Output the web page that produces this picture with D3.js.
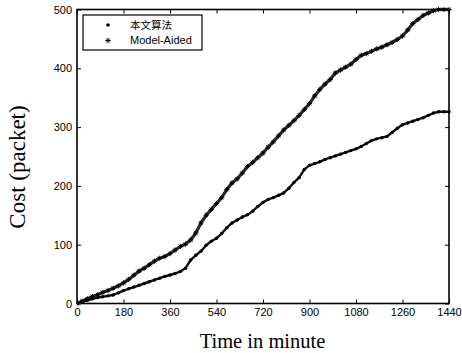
<!DOCTYPE html>
<html><head><meta charset="utf-8">
<script src="https://cdn.jsdelivr.net/npm/d3@7"></script>
<style>body{margin:0;background:#fff}svg{display:block}</style>
</head><body>
<script>
const minutes = d3.range(0, 1441, 20);
const seriesNames = ["本文算法", "Model-Aided"];
const oursValues = [0,3,5.5,8,10,11.5,13,14.5,18,22,25,28,31,34,37,40,43,46,48.5,51,54.5,60,74,82,89,99,106,111,119,129,137,142,147,151,157,165,172,177,180,184,188,196,206,214,228,235,238,241,245,248,251,254,257,260,263,267,272,277,280,282,284,291,298,304,307,310,313,316,320,324,326,326,326];
const modelValues = [0,4,8,12,15,19,22,26,30,35,41,48,55,60,66,72,77,80,85,91,97,101,108,120,137,150,160,170,180,194,205,212,222,233,240,248,256,266,275,285,295,303,311,320,330,340,353,364,373,381,392,397,402,407,415,422,425,429,433,436,440,444,449,455,465,476,483,490,494,498,500,500,500];
const xTicks = [0,180,360,540,720,900,1080,1260,1440];
const yTicks = [0,100,200,300,400,500];

const W = 462, H = 353;
const svg = d3.select("body").append("svg").attr("width", W).attr("height", H);
svg.append("rect").attr("width", W).attr("height", H).attr("fill", "#fff");

const x = d3.scaleLinear().domain([0,1440]).range([77,449]);
const y = d3.scaleLinear().domain([0,500]).range([303.5,9.5]);

const g = svg.append("g");
const clip = svg.append("clipPath").attr("id","c").append("rect")
  .attr("x",77).attr("y",6).attr("width",376).attr("height",300);

// axes
const tickFont = "Liberation Sans, Arial, sans-serif";
const fmt = d3.format("d");
const xb = g.append("g").attr("transform", `translate(0,${y(0)})`)
  .call(d3.axisBottom(x).tickValues(xTicks).tickFormat(fmt).tickSizeInner(-4).tickSizeOuter(0).tickPadding(6));
const xt = g.append("g").attr("transform", `translate(0,${y(500)})`)
  .call(d3.axisTop(x).tickValues(xTicks).tickSizeInner(-4).tickSizeOuter(0).tickFormat(""));
const yl = g.append("g").attr("transform", `translate(${x(0)},0)`)
  .call(d3.axisLeft(y).tickValues(yTicks).tickFormat(fmt).tickSizeInner(-4).tickSizeOuter(0).tickPadding(5));
const yr = g.append("g").attr("transform", `translate(${x(1440)},0)`)
  .call(d3.axisRight(y).tickValues(yTicks).tickSizeInner(-4).tickSizeOuter(0).tickFormat(""));
[xb,xt,yl,yr].forEach(a=>{
  a.select(".domain").remove();
  a.selectAll("line").attr("stroke","#000").attr("stroke-width",1);
  a.selectAll("text").attr("font-family",tickFont).attr("font-size","11px").attr("fill","#000");
});
xb.selectAll("text").attr("dy","0.6em");
g.append("rect").attr("x",x(0)).attr("y",y(500)).attr("width",x(1440)-x(0)).attr("height",y(0)-y(500))
  .attr("fill","none").attr("stroke","#000").attr("stroke-width",1.6);

// series
const lineGen = d3.line().x((d,i)=>x(minutes[i])).y(d=>y(d));
const plot = svg.append("g").attr("clip-path","url(#c)");
plot.append("path").datum(modelValues).attr("d", lineGen)
  .attr("fill","none").attr("stroke","#2a2a2a").attr("stroke-width",3.2).attr("stroke-linejoin","round");
plot.append("path").datum(oursValues).attr("d", lineGen)
  .attr("fill","none").attr("stroke","#111").attr("stroke-width",2.4).attr("stroke-linejoin","round");

function star(sel, cx, cy, r){
  const p = `M${cx-r},${cy}L${cx+r},${cy}M${cx},${cy-r}L${cx},${cy+r}M${cx-r*0.7},${cy-r*0.7}L${cx+r*0.7},${cy+r*0.7}M${cx-r*0.7},${cy+r*0.7}L${cx+r*0.7},${cy-r*0.7}`;
  sel.append("path").attr("d",p).attr("stroke","#000").attr("stroke-width",0.9).attr("fill","none");
}
const starG = plot.append("g");
modelValues.forEach((v,i)=>star(starG, x(minutes[i]), y(v), 2.6));
plot.append("g").selectAll("circle").data(oursValues).join("circle")
  .attr("cx",(d,i)=>x(minutes[i])).attr("cy",d=>y(d)).attr("r",1.7).attr("fill","#000");

// legend
const lg = svg.append("g");
lg.append("rect").attr("x",83).attr("y",15).attr("width",119).attr("height",35)
  .attr("fill","#fff").attr("stroke","#000").attr("stroke-width",1.2);
lg.append("circle").attr("cx",108).attr("cy",25).attr("r",1.8).attr("fill","#000");
star(lg, 108, 40.5, 2.8);
lg.append("text").attr("x",130).attr("y",25).attr("dy","0.35em").text(seriesNames[0])
  .attr("font-family","Noto Sans CJK SC, sans-serif").attr("font-size","10.5px");
lg.append("text").attr("x",130).attr("y",40.5).attr("dy","0.35em").text(seriesNames[1])
  .attr("font-family",tickFont).attr("font-size","11px");

// axis titles
svg.append("text").attr("x",262.5).attr("y",347.5).attr("text-anchor","middle")
  .attr("font-family","Liberation Serif, Times New Roman, serif").attr("font-size","20.5px").text("Time in minute");
svg.append("text").attr("transform","translate(25,167) rotate(-90)").attr("text-anchor","middle")
  .attr("font-family","Liberation Serif, Times New Roman, serif").attr("font-size","23px").text("Cost (packet)");
</script>
</body></html>
